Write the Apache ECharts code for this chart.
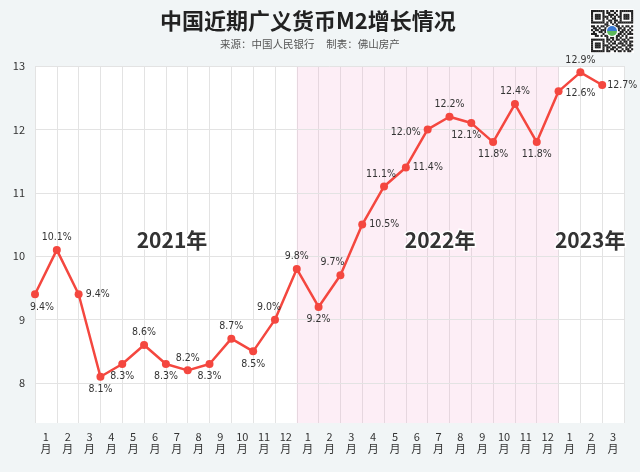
<!DOCTYPE html>
<html>
<head>
<meta charset="utf-8">
<script src="https://cdn.jsdelivr.net/npm/echarts@6/dist/echarts.min.js"></script>
<style>html,body{margin:0;padding:0;background:#f1f5f6;}#c{width:640px;height:472px;}</style>
</head>
<body>
<div id="c"></div>
<script>
const months = ['1','2','3','4','5','6','7','8','9','10','11','12','1','2','3','4','5','6','7','8','9','10','11','12','1','2','3'];
const m2Growth = [9.4,10.1,9.4,8.1,8.3,8.6,8.3,8.2,8.3,8.7,8.5,9.0,9.8,9.2,9.7,10.5,11.1,11.4,12.0,12.2,12.1,11.8,12.4,11.8,12.6,12.9,12.7];
const yTicks = [8,9,10,11,12,13];
const years = ['2021年','2022年','2023年'];
const yearSpans = [[0,12],[12,24],[24,27]];
const labelPositions = ['bottom','top','right','bottom','bottom','top','bottom','top','bottom','top','bottom','top',
  'top','bottom','top','right','top','right','left','top','bottom','bottom','top','bottom','right','top','right'];
const labelOffsets = {0:[7,0],11:[-6,0],14:[-8,0],16:[-3,0],18:[0,3],20:[-5,0],24:[0,2],26:[-2,0]};

const chart = echarts.init(document.getElementById('c'));

// QR-like decoration
const qrPattern = [
 '1111111010110101111111',
 '1000001011001001000001',
 '1011101001110101011101',
 '1011101110101011011101',
 '1011101010011001011101',
 '1000001001101101000001',
 '1111111010101011111111',
 '0000000110010100000000',
 '1101011011001110101101',
 '0110100100000011010010',
 '1011011100000010110101',
 '0100110100000001101010',
 '1110001000000011010111',
 '0011010110000110101000',
 '0000000010110101001011',
 '1111111011010110110100',
 '1000001010101001011011',
 '1011101001011011101010',
 '1011101110100100110111',
 '1011101011011011001010',
 '1000001010110100101101',
 '1111111011001011010110'
];
const qrChildren = [{type:'rect', shape:{x:-1,y:-1,width:44,height:44}, style:{fill:'#fff'}}];
const cell = 42/22;
qrPattern.forEach((row, r) => {
  for (let c = 0; c < row.length; c++) {
    if (row[c] === '1') qrChildren.push({type:'rect', shape:{x:c*cell, y:r*cell, width:cell+0.2, height:cell+0.2}, style:{fill:'#222'}});
  }
});
qrChildren.push({type:'circle', shape:{cx:21, cy:21, r:6}, style:{fill:'#fff'}});
qrChildren.push({type:'sector', shape:{cx:21, cy:21, r:5, startAngle:Math.PI, endAngle:2*Math.PI}, style:{fill:'#3a7bd5'}});
qrChildren.push({type:'sector', shape:{cx:21, cy:21, r:5, startAngle:0, endAngle:Math.PI}, style:{fill:'#5cb85c'}});

const yearPoints = years.map((name, i) => {
  const xc = [6.28, 18.57, 25.45][i];
  return {name: name, coord: [xc, 10.26], value: name};
});

chart.setOption({
  backgroundColor: '#f1f5f6',
  animation: false,
  graphic: [
    {type:'text', left: 160, top: 10, style:{text:'中国近期广义货币M2增长情况', font:'bold 22px "Noto Sans CJK SC"', fill:'#222'}},
    {type:'text', left: 220, top: 39, style:{text:'来源：中国人民银行     制表：佛山房产', font:'10.5px "Noto Sans CJK SC"', fill:'#555'}},
    {type:'group', x: 591, y: 10, children: qrChildren}
  ],
  grid: {left: 35, right: 16, top: 66, bottom: 49, show: true, backgroundColor: '#fff', borderWidth: 0},
  xAxis: [
    {type:'category', data: months.map(m => m + '\n月'), boundaryGap: true,
     axisLine:{show:false}, axisTick:{show:false},
     axisLabel:{color:'#333', fontSize:11, lineHeight:12, margin:8, fontFamily:'"Noto Sans CJK SC"', interval:0},
     splitLine:{show:true, lineStyle:{color:'#e3e3e3', width:1}}},
    {type:'value', min:0, max:27, show:false}
  ],
  yAxis: {type:'value', min:7.37, max:13,
    axisLine:{show:false}, axisTick:{show:false},
    splitLine:{show:false},
    axisLabel:{color:'#333', fontSize:11, margin:10, fontFamily:'"Noto Sans CJK SC"', customValues: yTicks,
      formatter: v => (Math.abs(v - Math.round(v)) < 1e-6 ? String(Math.round(v)) : '')}
  },
  series: [{
    type: 'line',
    xAxisIndex: 1,
    data: m2Growth.map((v, i) => ({
      value: [i, v],
      label: {position: labelPositions[i], offset: labelOffsets[i] || [0,0]}
    })),
    symbol: 'circle', symbolSize: 8,
    lineStyle: {color:'#f4473f', width:2.5},
    itemStyle: {color:'#f4473f'},
    label: {show:true, formatter: p => p.value[1].toFixed(1) + '%', color:'#333', fontSize:10.5,
      fontFamily:'"DejaVu Sans Condensed"', distance: 3},
    z: 5,
    markLine: {silent:true, symbol:'none', label:{show:false},
      lineStyle:{color:'#e3e3e3', type:'solid', width:1},
      data: yTicks.map(t => ({yAxis: t})), z: 1},
    markArea: {silent:true, itemStyle:{color:'rgba(247,170,210,0.2)'},
      data: [[{xAxis: yearSpans[1][0]}, {xAxis: yearSpans[1][1]}]]},
    markPoint: {symbol:'rect', symbolSize:1, itemStyle:{color:'rgba(0,0,0,0)'},
      label:{show:true, position:'inside', formatter: p => p.name, fontSize:21, fontWeight:'bold',
        color:'#333', fontFamily:'"Noto Sans CJK SC"', textBorderColor:'#fff', textBorderWidth:3},
      data: yearPoints}
  }]
});
</script>
</body>
</html>
